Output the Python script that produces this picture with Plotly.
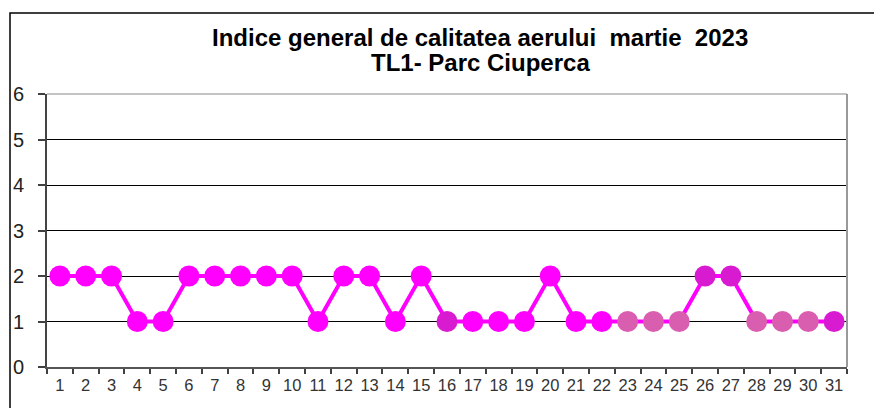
import plotly.graph_objects as go

days = [str(d) for d in range(1, 32)]
values = [2, 2, 2, 1, 1, 2, 2, 2, 2, 2, 1, 2, 2, 1, 2, 1, 1, 1, 1, 2, 1, 1, 1, 1, 1, 2, 2, 1, 1, 1, 1]
y_ticks = [0, 1, 2, 3, 4, 5, 6]
title_lines = ["Indice general de calitatea aerului  martie  2023", "TL1- Parc Ciuperca"]

M = "#FF00FF"
D = "#D81BD0"
P = "#D95EB0"
marker_colors = [M]*15 + [D] + [M]*6 + [P]*3 + [D, D] + [P]*3 + [D]

W, H = 874, 408
L, R, T, B = 47, 27, 94, 41
pw, ph = W - L - R, H - T - B

def px_x(x):
    return (x - L) / pw

def px_y(y):
    return (H - B - y) / ph

fig = go.Figure()
fig.add_trace(go.Scatter(
    x=days, y=values, mode="lines+markers",
    line=dict(color=M, width=4),
    marker=dict(size=21, color=marker_colors, line=dict(width=0)),
    hoverinfo="x+y",
))

title_font = dict(family="Liberation Sans, Arial", size=24, color="black")
fig.update_layout(
    width=W, height=H,
    margin=dict(l=L, r=R, t=T, b=B),
    paper_bgcolor="white", plot_bgcolor="white",
    showlegend=False,
    xaxis=dict(
        type="category", tickson="boundaries", ticks="outside", ticklen=5,
        tickcolor="#404040", tickwidth=1.5, showgrid=False, showline=True,
        linecolor="#555555", linewidth=1.5, tickangle=0,
        tickfont=dict(family="Liberation Sans, Arial", size=16.5, color="#333333"),
        ticklabelstandoff=2,
        range=[-0.5, 30.5], fixedrange=True, automargin=False,
    ),
    yaxis=dict(
        range=[0, 6], tickvals=y_ticks, ticks="outside", ticklen=7, tickcolor="#404040",
        tickwidth=1.5, showgrid=True, gridcolor="black", gridwidth=1,
        showline=True, linecolor="#444444", linewidth=2, zeroline=False,
        tickfont=dict(family="Liberation Sans, Arial", size=20, color="#222222"),
        ticklabelstandoff=10, fixedrange=True, automargin=False,
    ),
    annotations=[
        dict(text="<b>" + title_lines[0] + "</b>", xref="paper", yref="paper",
             x=px_x(479.5), y=px_y(37), xanchor="center", yanchor="middle",
             showarrow=False, font=title_font),
        dict(text="<b>" + title_lines[1] + "</b>", xref="paper", yref="paper",
             x=px_x(480), y=px_y(63), xanchor="center", yanchor="middle",
             showarrow=False, font=title_font),
    ],
)

# right and top plot-area border (grey)
fig.add_shape(type="line", xref="paper", yref="paper", x0=1, x1=1, y0=0, y1=1,
              line=dict(color="#999999", width=2))
fig.add_shape(type="line", xref="paper", yref="paper", x0=0, x1=1, y0=1, y1=1,
              line=dict(color="#888888", width=1))
# outer chart border
fig.add_shape(type="rect", xref="paper", yref="paper",
              x0=px_x(10), x1=px_x(W + 20), y0=px_y(H + 20), y1=px_y(13),
              line=dict(color="black", width=1.5), layer="below")

fig.write_html("out.html", config={"displayModeBar": False},
               post_script="document.body.style.margin='0';")
